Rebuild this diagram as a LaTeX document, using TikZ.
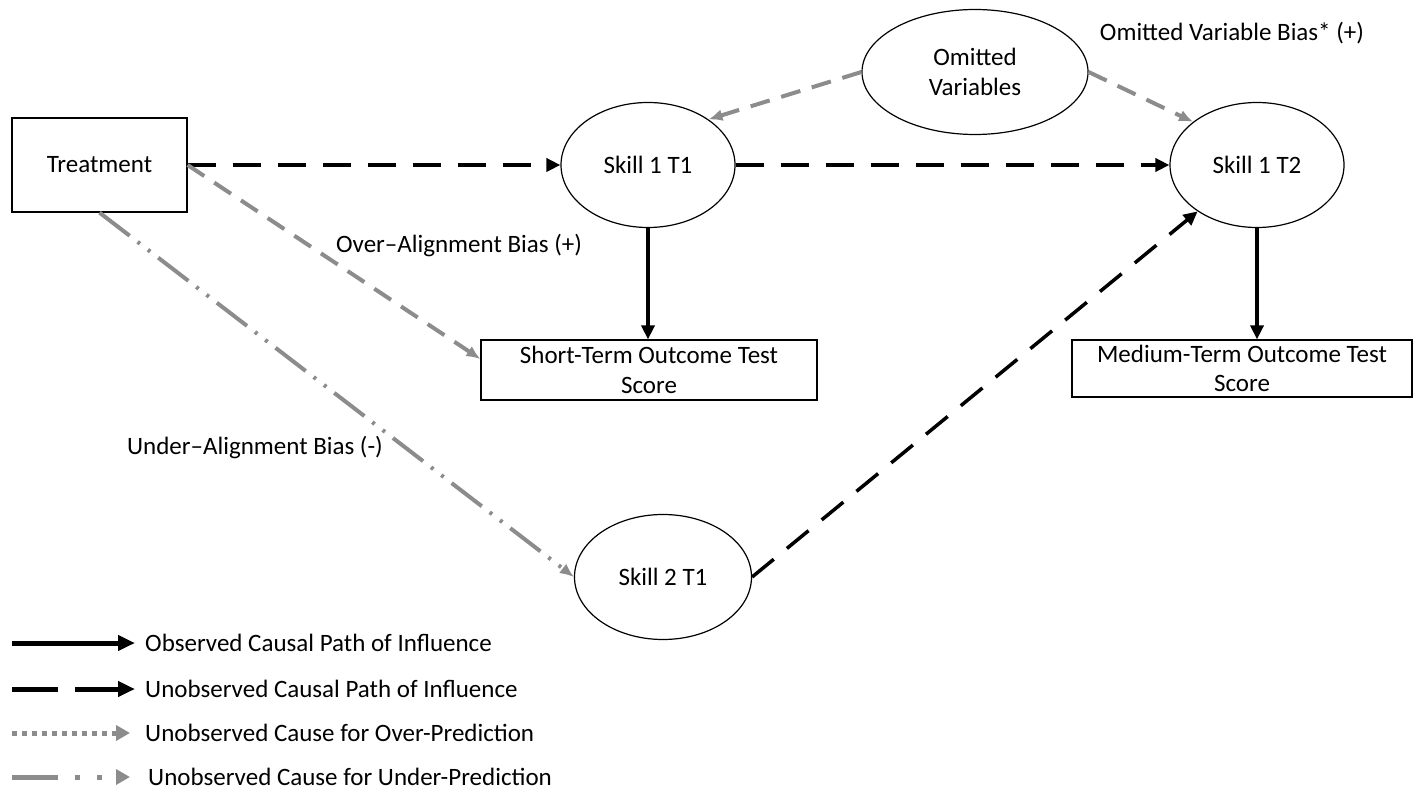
\documentclass[tikz,border=0pt]{standalone}
\usepackage{fontspec}
\setmainfont{Carlito}
\usetikzlibrary{arrows.meta,shapes.geometric}
\definecolor{bgray}{HTML}{8C8C8C}
\begin{document}
\begin{tikzpicture}[x=1pt,y=-1pt,
  font=\fontsize{25}{29.5}\selectfont,
  ell/.style={draw, ellipse, line width=1.2pt, inner sep=0pt, minimum width=174pt, minimum height=125pt, align=center},
  box/.style={draw, rectangle, line width=1.2pt, inner sep=0pt, align=center},
  obs/.style={line width=3.5pt, -{Triangle[length=14pt,width=13pt]}},
  unobs/.style={line width=3.5pt, dash pattern=on 28pt off 17pt, -{Triangle[length=14pt,width=13pt]}},
  overp/.style={bgray, line width=4pt, dash pattern=on 20pt off 12pt, -{Latex[length=14pt,width=12pt]}},
  underp/.style={bgray, line width=4pt, dash pattern=on 38pt off 10pt on 3pt off 10pt on 3pt off 10pt, -{Latex[length=14pt,width=12pt]}},
  lbl/.style={inner sep=0pt}
]
\useasboundingbox (0,0) rectangle (1424,791);
% nodes
\node[box, minimum width=175pt, minimum height=94pt] (tr) at (99.5,165) {Treatment};
\node[ell] (s1) at (648,165) {Skill 1 T1};
\node[ell, minimum width=226pt] (om) at (975,72) {Omitted\\Variables};
\node[ell] (t2) at (1257,165) {Skill 1 T2};
\node[ell, minimum width=177pt] (s2) at (663,577) {Skill 2 T1};
\node[box, minimum width=336pt, minimum height=60pt] (st) at (649,370) {Short-Term Outcome Test\\Score};
\node[box, minimum width=340pt, minimum height=57pt] (mt) at (1242,368.5) {Medium-Term Outcome Test\\Score};
% labels
\node[lbl] (l1) at (1232,33) {Omitted Variable Bias* (+)};
\node[lbl] (l2) at (459,246) {Over--Alignment Bias (+)};
\node[lbl] (l3) at (255,448) {Under--Alignment Bias (-)};
% connectors
\draw[unobs] (tr.east) -- (s1.west);
\draw[unobs] (s1.east) -- (t2.west);
\draw[obs] (s1.south) -- (s1.south |- st.north);
\draw[obs] (t2.south) -- (t2.south |- mt.north);
\draw[unobs] (s2.east) -- (t2.218);
\draw[overp] (om.west) -- (s1.37);
\draw[overp] (om.east) -- (t2.146);
\draw[overp] (tr.east) -- ([yshift=11pt]st.west);
\draw[underp] (tr.south) -- (s2.west);
% legend
\coordinate (a1) at (12,643); \coordinate (b1) at (135,643);
\coordinate (a2) at (12,689); \coordinate (b2) at (135,689);
\coordinate (a3) at (12,733); \coordinate (b3) at (130,733);
\coordinate (a4) at (12,777); \coordinate (b4) at (130,777);
\draw[line width=5pt, -{Triangle[length=17pt,width=15pt]}] (a1) -- (b1);
\draw[line width=5pt, dash pattern=on 46pt off 17pt, -{Triangle[length=17pt,width=15pt]}] (a2) -- (b2);
\draw[bgray, line width=5pt, dash pattern=on 5pt off 5pt, -{Triangle[length=14pt,width=15pt]}] (a3) -- (b3);
\draw[bgray, line width=5pt, dash pattern=on 46pt off 17pt on 5pt off 17pt on 5pt off 30pt, -{Triangle[length=14pt,width=15pt]}] (a4) -- (b4);
\node[lbl, anchor=west] (t1) at (145,643) {Observed Causal Path of Influence};
\node[lbl, anchor=west] (t2l) at (145,689) {Unobserved Causal Path of Influence};
\node[lbl, anchor=west] (t3) at (145,733) {Unobserved Cause for Over-Prediction};
\node[lbl, anchor=west] (t4) at (148,777) {Unobserved Cause for Under-Prediction};
\end{tikzpicture}
\end{document}
